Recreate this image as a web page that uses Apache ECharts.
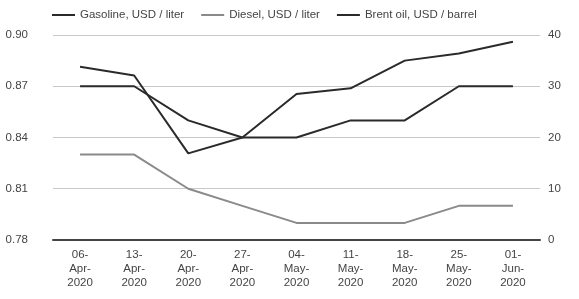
<!DOCTYPE html>
<html>
<head>
<meta charset="utf-8">
<script src="https://cdn.jsdelivr.net/npm/echarts@6/dist/echarts.min.js"></script>
<style>
  html, body { margin: 0; padding: 0; background: #fff; }
  #chart { width: 579px; height: 299px; }
</style>
</head>
<body>
<div id="chart"></div>
<script>
// weekly dates
var categories = ['06-\nApr-\n2020', '13-\nApr-\n2020', '20-\nApr-\n2020', '27-\nApr-\n2020', '04-\nMay-\n2020',
    '11-\nMay-\n2020', '18-\nMay-\n2020', '25-\nMay-\n2020', '01-\nJun-\n2020'];
var gasoline = [0.87, 0.87, 0.85, 0.84, 0.84, 0.85, 0.85, 0.87, 0.87];
var diesel = [0.83, 0.83, 0.81, 0.80, 0.79, 0.79, 0.79, 0.80, 0.80];
var brent = [33.8, 32.1, 16.9, 20.0, 28.5, 29.6, 35.0, 36.4, 38.7];

var textColor = '#444';
var fontFamily = 'Liberation Sans, Arial, sans-serif';

var myChart = echarts.init(document.getElementById('chart'));
var myOption = {
    animation: false,
    textStyle: { fontFamily: fontFamily },
    legend: {
        top: 4,
        left: 47,
        icon: 'rect',
        itemWidth: 23,
        itemHeight: 2,
        itemGap: 17,
        textStyle: { color: textColor, fontSize: 11.5, fontFamily: fontFamily },
        data: ['Gasoline, USD / liter', 'Diesel, USD / liter', 'Brent oil, USD / barrel']
    },
    grid: {
        left: 53,
        right: 39,
        top: 35,
        bottom: 59
    },
    xAxis: {
        type: 'category',
        data: categories,
        boundaryGap: true,
        axisTick: { show: false },
        axisLine: { lineStyle: { color: '#444', width: 2 } },
        axisLabel: { color: textColor, fontSize: 11.5, lineHeight: 14, margin: 8, interval: 0 }
    },
    yAxis: [{
        type: 'value',
        min: 0.78,
        max: 0.90,
        interval: 0.03,
        axisLine: { show: false },
        axisTick: { show: false },
        axisLabel: {
            color: textColor, fontSize: 11.5, margin: 25,
            formatter: function (v) { return v.toFixed(2); }
        },
        splitLine: { lineStyle: { color: '#c8c8c8', width: 1 } }
    }, {
        type: 'value',
        min: 0,
        max: 40,
        interval: 10,
        axisLine: { show: false },
        axisTick: { show: false },
        axisLabel: { color: textColor, fontSize: 11.5, margin: 8 },
        splitLine: { show: false }
    }],
    series: [{
        name: 'Gasoline, USD / liter',
        type: 'line',
        yAxisIndex: 0,
        data: gasoline,
        showSymbol: false,
        itemStyle: { color: '#2a2a2a' },
        lineStyle: { color: '#2a2a2a', width: 2 }
    }, {
        name: 'Diesel, USD / liter',
        type: 'line',
        yAxisIndex: 0,
        data: diesel,
        showSymbol: false,
        itemStyle: { color: '#8a8a8a' },
        lineStyle: { color: '#8a8a8a', width: 2 }
    }, {
        name: 'Brent oil, USD / barrel',
        type: 'line',
        yAxisIndex: 1,
        data: brent,
        showSymbol: false,
        itemStyle: { color: '#2a2a2a' },
        lineStyle: { color: '#2a2a2a', width: 2 }
    }]
};
myChart.setOption(myOption);
</script>
</body>
</html>
